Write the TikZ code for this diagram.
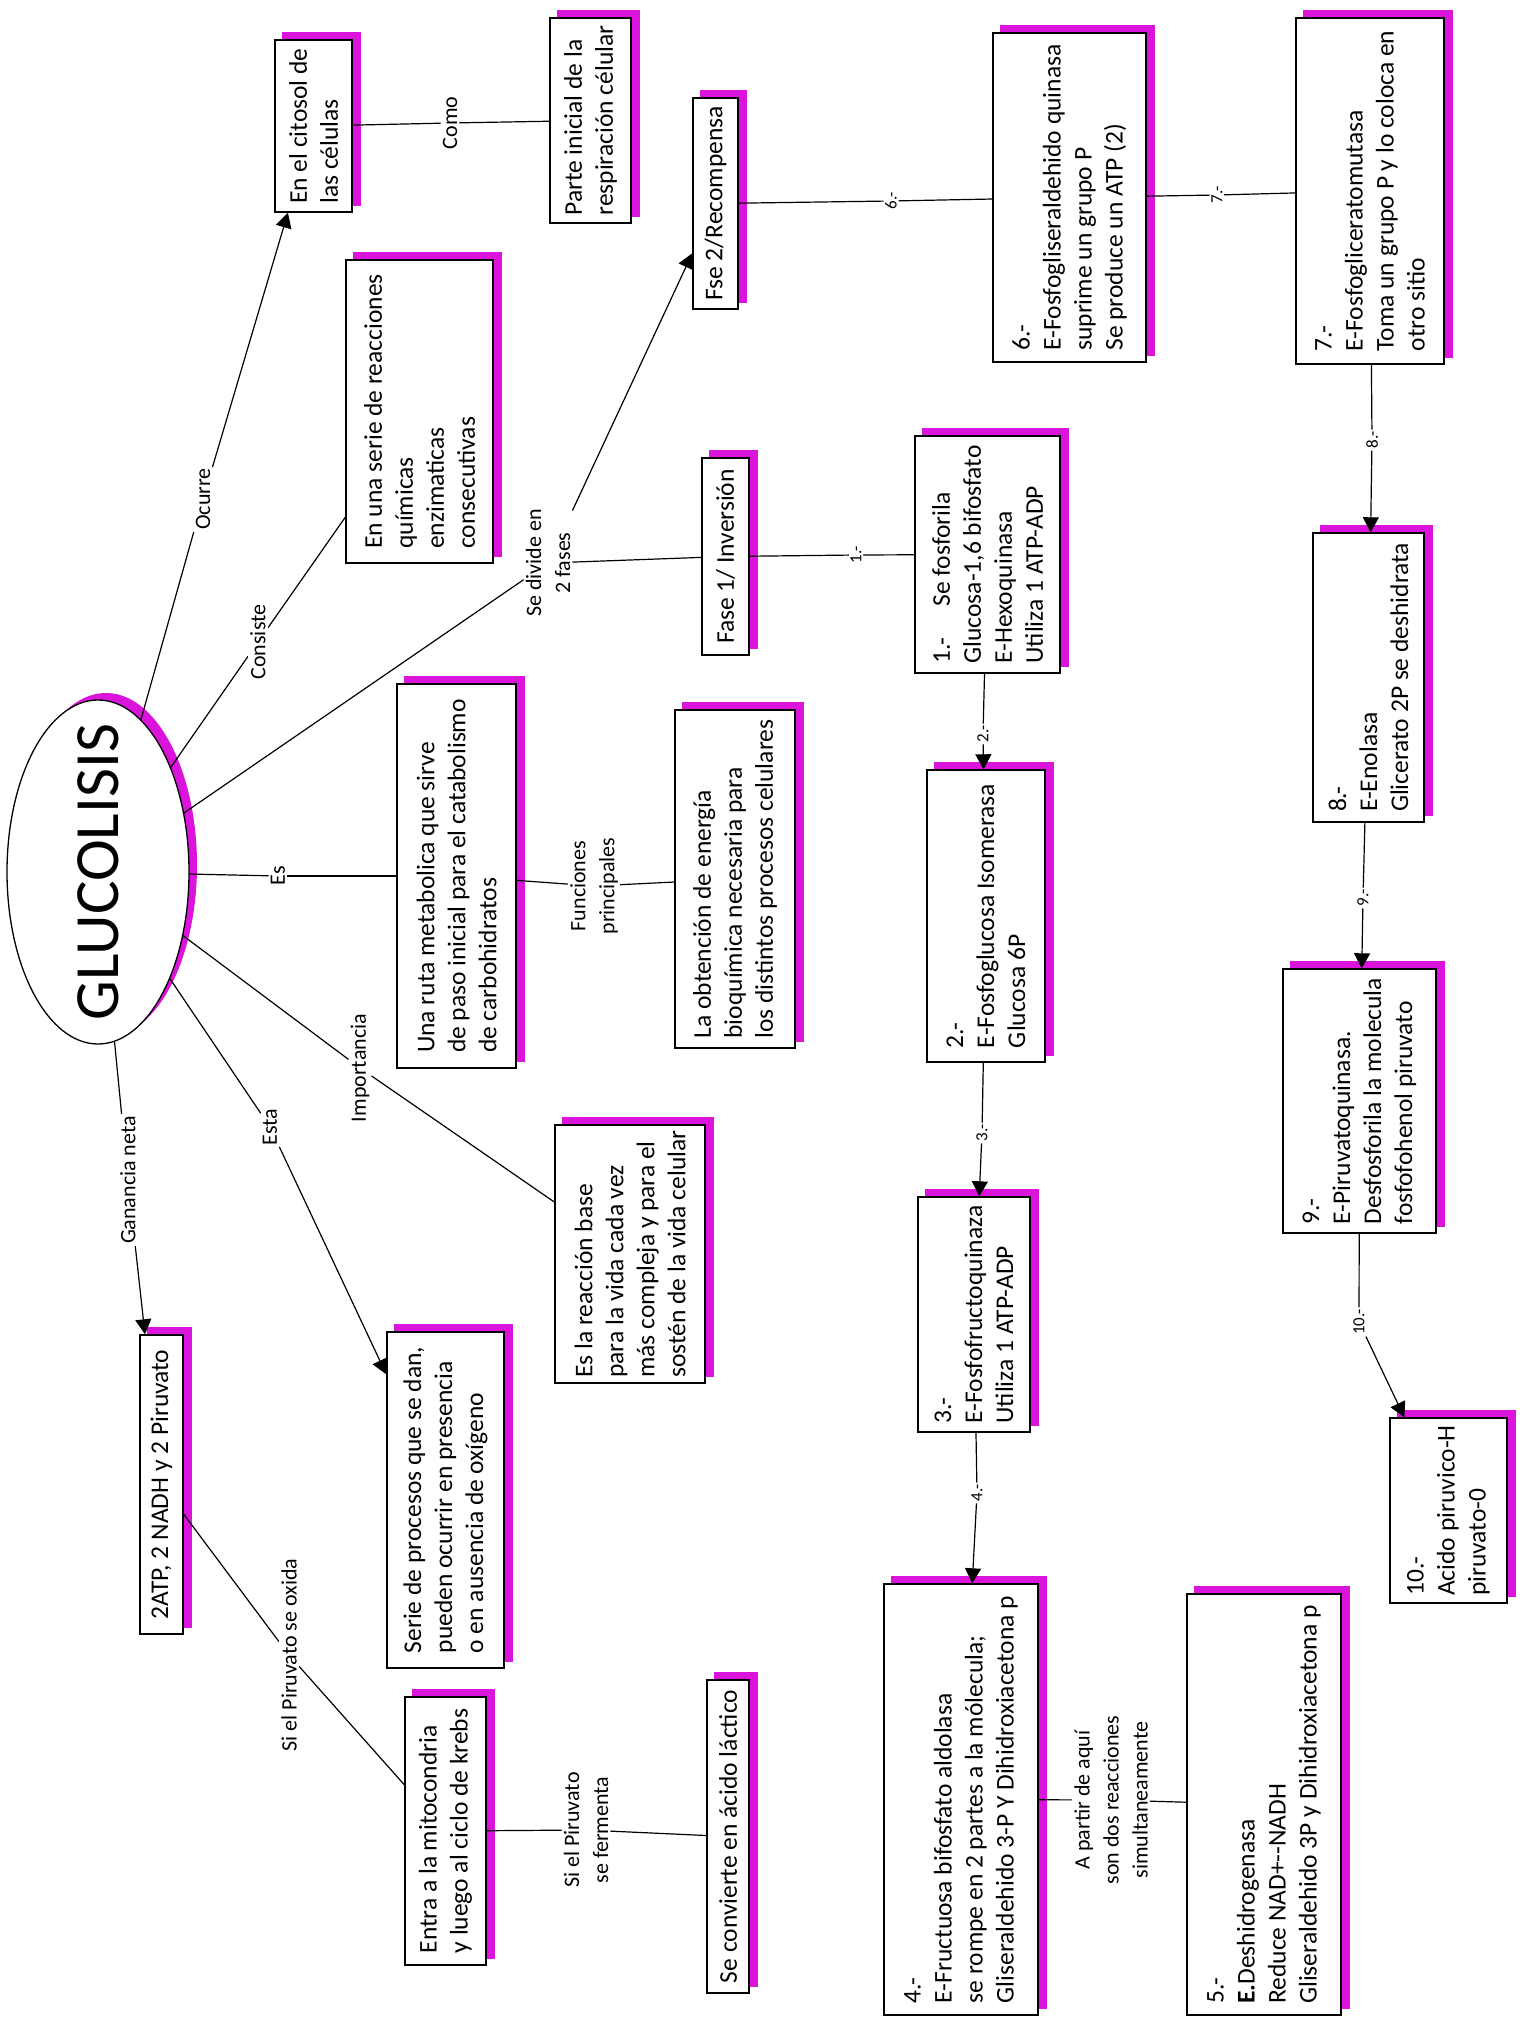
\documentclass[tikz,border=0pt]{standalone}
\usepackage{fontspec}
\setmainfont{Carlito}
\usetikzlibrary{shapes.geometric,arrows.meta,backgrounds}
\definecolor{sombra}{RGB}{218,20,218}
\newcommand\boxfont{\fontsize{25.5}{31}\selectfont}
\newcommand\lblfont{\fontsize{22}{29}\selectfont}
\newcommand\stepfont{\fontsize{17}{20}\selectfont}
\newcommand\bigfont{\fontsize{63}{70}\selectfont}
\tikzset{
  cbox/.style 2 args={draw, fill=white, rotate=90, align=left, font=\boxfont,
    inner sep=0pt, line width=1.4pt, minimum width=#1, minimum height=#2},
  lbl/.style={fill=white, rotate=90, align=center, font=\lblfont, inner sep=2pt},
  num/.style={fill=white, rotate=90, font=\stepfont, inner sep=1.5pt},
  con/.style={every edge/.style={draw, line width=1.2pt}},
  arr/.style={-{Triangle[length=15pt,width=16pt]}},
}
\begin{document}
\begin{tikzpicture}[x=1pt,y=-1pt]
\useasboundingbox (0,0) rectangle (1519,2028);

\node[draw, fill=white, ellipse, rotate=90, minimum width=344, minimum height=182,
  inner sep=0pt, line width=1.3pt] (glu) at (98,872) {};
\node[rotate=90, font=\bigfont, inner sep=0pt] (glu_t) at (glu.center) {GLUCOLISIS};

\node[cbox={172}{77}] (c_cito) at (313.5,126) {En el citosol de\\las células};
\node[cbox={205}{81}] (c_parte) at (590.5,120.5) {Parte inicial de la\\respiración célular};
\node[cbox={211}{45}] (c_fse2) at (715.5,203.5) {Fse 2/Recompensa};
\node[cbox={303}{147}] (c_serie) at (419.5,411.5) {En una serie de reacciones\\químicas\\enzimaticas\\consecutivas};
\node[cbox={197}{47}] (c_fase1) at (725.5,556.5) {Fase 1/ Inversión};
\node[cbox={384}{119}] (c_ruta) at (456.5,876) {Una ruta metabolica que sirve\\de paso inicial para el catabolismo\\de carbohidratos};
\node[cbox={338}{120}] (c_obt) at (735,879) {La obtención de energía\\bioquímica necesaria para\\los distintos procesos celulares};
\node[cbox={258}{150}] (c_base) at (630,1254) {Es la reacción base\\para la vida cada vez\\más compleja y para el\\sostén de la vida celular};
\node[cbox={299}{43}] (c_gan) at (161.5,1484.5) {2ATP, 2 NADH y 2 Piruvato};
\node[cbox={336}{117}] (c_proc) at (445.5,1500) {Serie de procesos que se dan,\\pueden ocurrir en presencia\\o en ausencia de oxígeno};
\node[cbox={268}{81}] (c_krebs) at (445.5,1831) {Entra a la mitocondria\\y luego al ciclo de krebs};
\node[cbox={313}{42}] (c_lact) at (728,1836.5) {Se convierte en ácido láctico};

\node[cbox={237}{145}] (p_1) at (987.5,554.5) {1.-\quad\ Se fosforila\\Glucosa-1,6 bifosfato\\E-Hexoquinasa\\Utiliza 1 ATP-ADP};
\node[cbox={292}{118}] (p_2) at (986,916) {2.-\\E-Fosfoglucosa Isomerasa\\Glucosa 6P};
\node[cbox={235}{112}] (p_3) at (974,1314.5) {3.-\\E-Fosfofructoquinaza\\Utiliza 1 ATP-ADP};
\node[cbox={431}{154}] (p_4) at (961,1799.5) {4.-\\E-Fructuosa bifosfato aldolasa\\se rompe en 2 partes a la mólecula;\\Gliseraldehido 3-P Y Dihidroxiacetona p};
\node[cbox={421}{154}] (p_5) at (1264,1804.5) {5.-\\\textbf{E.}Deshidrogenasa\\Reduce NAD+-{}-NADH\\Gliseraldehido 3P y Dihidroxiacetona p};
\node[cbox={329}{153}] (p_6) at (1069.5,197.5) {6.-\\E-Fosfogliseraldehido quinasa\\suprime un grupo P\\Se produce un ATP (2)};
\node[cbox={346}{148}] (p_7) at (1370,191) {7.-\\E-Fosfogliceratomutasa\\Toma un grupo P y lo coloca en\\otro sitio};
\node[cbox={289}{111}] (p_8) at (1368.5,677.5) {8.-\\E-Enolasa\\Glicerato 2P se deshidrata};
\node[cbox={264}{153}] (p_9) at (1359.5,1101) {9.-\\E-Piruvatoquinasa.\\Desfosforila la molecula\\fosfofohenol piruvato};
\node[cbox={185}{117}] (p_10) at (1448.5,1510.5) {10.-\\Acido piruvico-H\\piruvato-0};

\node[lbl] (l_ocu) at (203,499) {Ocurre};
\node[lbl] (l_como) at (450,123) {Como};
\node[lbl] (l_cons) at (258,642) {Consiste};
\node[lbl] (l_div) at (548,563) {Se divide en\\2 fases};
\node[lbl] (l_es) at (278,876) {Es};
\node[lbl] (l_fun) at (594,886) {Funciones\\principales};
\node[lbl] (l_imp) at (360,1068) {Importancia};
\node[lbl] (l_esta) at (270,1127) {Esta};
\node[lbl] (l_gan) at (128,1180) {Ganancia neta};
\node[lbl] (l_oxi) at (289,1655) {Si el Piruvato se oxida};
\node[lbl] (l_fer) at (586,1830) {Si el Piruvato\\se fermenta};
\node[lbl] (l_par) at (1111,1800) {A partir de aquí\\son dos reacciones\\simultaneamente};

\node[num] (n_1) at (856,555) {1.-};
\node[num] (n_2) at (983,734) {2.-};
\node[num] (n_3) at (982,1133) {3.-};
\node[num] (n_4) at (977,1493) {4.-};
\node[num] (n_6) at (891,201) {6.-};
\node[num] (n_7) at (1217,195) {7.-};
\node[num] (n_8) at (1372,440) {8.-};
\node[num] (n_9) at (1363,898) {9.-};
\node[num] (n_10) at (1359,1322) {10.-};

\begin{scope}[on background layer]
\fill[white] (0,0) rectangle (1519,2028);
\fill[sombra] ([shift={(8,-7)}]glu.center) ellipse [x radius=91, y radius=172];
\foreach \n in {c_cito,c_parte,c_fse2,c_serie,c_fase1,c_ruta,c_obt,c_base,c_gan,c_proc,c_krebs,c_lact,p_1,p_2,p_3,p_4,p_5,p_6,p_7,p_8,p_9,p_10}
  \fill[sombra] ([shift={(8,-7)}]\n.south west) rectangle ([shift={(8,-7)}]\n.north east);
\path[con]
  (glu) edge (l_ocu) (l_ocu) edge[arr] (c_cito)
  (c_cito) edge (l_como) (l_como) edge (c_parte)
  (glu) edge (l_cons) (l_cons) edge (c_serie)
  (glu) edge (l_div) (l_div) edge (c_fase1) (l_div) edge[arr] (c_fse2)
  (glu) edge (l_es) (l_es) edge (c_ruta)
  (c_ruta) edge (l_fun) (l_fun) edge (c_obt)
  (glu) edge (l_imp) (l_imp) edge (c_base)
  (glu) edge (l_esta) (l_esta) edge[arr] (c_proc)
  (glu) edge (l_gan) (l_gan) edge[arr] (c_gan)
  (c_gan) edge (l_oxi) (l_oxi) edge (c_krebs)
  (c_krebs) edge (l_fer) (l_fer) edge (c_lact)
  (c_fase1) edge (n_1) (n_1) edge (p_1)
  (p_1) edge (n_2) (n_2) edge[arr] (p_2)
  (p_2) edge (n_3) (n_3) edge[arr] (p_3)
  (p_3) edge (n_4) (n_4) edge[arr] (p_4)
  (p_4) edge (l_par) (l_par) edge (p_5)
  (c_fse2) edge (n_6) (n_6) edge (p_6)
  (p_6) edge (n_7) (n_7) edge (p_7)
  (p_7) edge (n_8) (n_8) edge[arr] (p_8)
  (p_8) edge (n_9) (n_9) edge[arr] (p_9)
  (p_9) edge (n_10) (n_10) edge[arr] (p_10);
\end{scope}
\end{tikzpicture}
\end{document}
